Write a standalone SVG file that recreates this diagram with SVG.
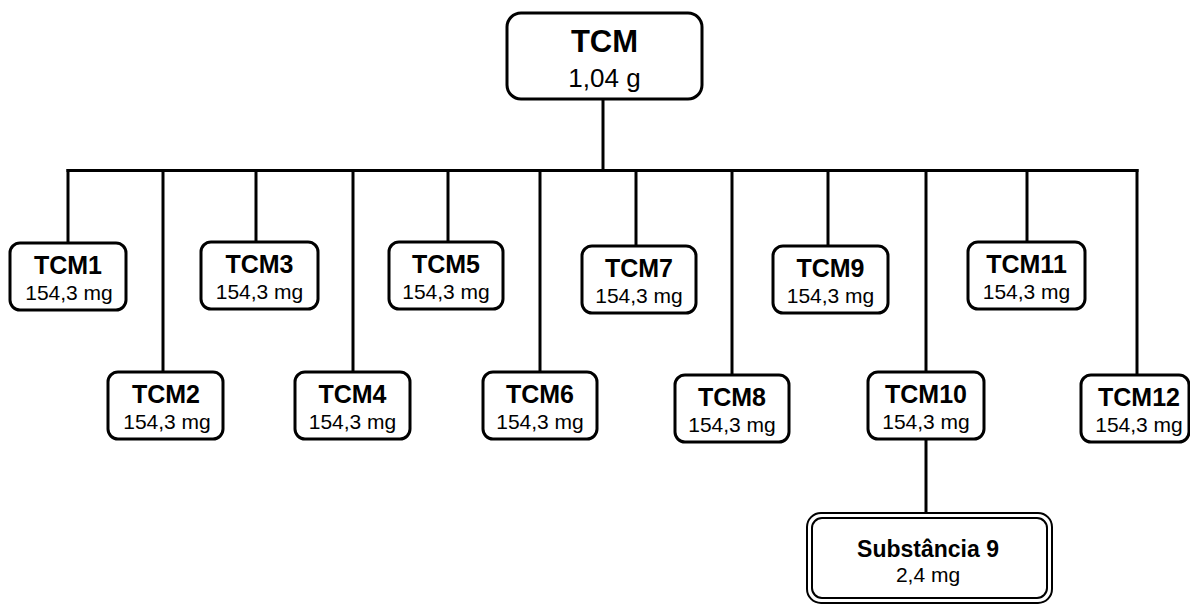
<svg xmlns="http://www.w3.org/2000/svg" width="1190" height="605" viewBox="0 0 1190 605">
  <style>
    .box { fill: #fff; stroke: #000; stroke-width: 3; }
    .dbl { fill: #fff; stroke: #000; stroke-width: 2; }
    .wire { stroke: #000; stroke-width: 3; fill: none; stroke-linecap: square; }
    text { font-family: "Liberation Sans", Arial, sans-serif; fill: #000; text-anchor: middle; }
    .name { font-weight: bold; font-size: 25px; }
    .mass { font-size: 21px; }
  </style>

  <!-- connectors -->
  <g id="connectors">
    <line class="wire" x1="603" y1="99" x2="603" y2="170.5"/>
    <line class="wire" x1="68" y1="170.5" x2="1137" y2="170.5"/>
    <line class="wire" x1="68" y1="170.5" x2="68" y2="243"/>
    <line class="wire" x1="163" y1="170.5" x2="163" y2="372"/>
    <line class="wire" x1="256" y1="170.5" x2="256" y2="242"/>
    <line class="wire" x1="353" y1="170.5" x2="353" y2="372"/>
    <line class="wire" x1="448" y1="170.5" x2="448" y2="242"/>
    <line class="wire" x1="540" y1="170.5" x2="540" y2="372"/>
    <line class="wire" x1="636" y1="170.5" x2="636" y2="246"/>
    <line class="wire" x1="732" y1="170.5" x2="732" y2="375"/>
    <line class="wire" x1="828" y1="170.5" x2="828" y2="246"/>
    <line class="wire" x1="926" y1="170.5" x2="926" y2="372"/>
    <line class="wire" x1="1027" y1="170.5" x2="1027" y2="242"/>
    <line class="wire" x1="1137" y1="170.5" x2="1137" y2="375"/>
    <line class="wire" x1="926" y1="439" x2="926" y2="513"/>
  </g>

  <!-- root sample -->
  <g id="tcm">
    <rect class="box" x="507" y="13" width="195" height="86" rx="14"/>
    <text x="604.5" y="52" style="font-weight:bold;font-size:31px">TCM</text>
    <text x="604.5" y="87" style="font-size:26px">1,04 g</text>
  </g>

  <!-- fractions, upper row -->
  <g id="tcm1">
    <rect class="box" x="10" y="243" width="116" height="67" rx="10"/>
    <text class="name" x="68" y="274">TCM1</text>
    <text class="mass" x="69" y="300">154,3 mg</text>
  </g>
  <g id="tcm3">
    <rect class="box" x="201" y="242" width="117" height="67" rx="10"/>
    <text class="name" x="259.5" y="273">TCM3</text>
    <text class="mass" x="259.5" y="299">154,3 mg</text>
  </g>
  <g id="tcm5">
    <rect class="box" x="389" y="242" width="114" height="67" rx="10"/>
    <text class="name" x="446" y="273">TCM5</text>
    <text class="mass" x="446" y="299">154,3 mg</text>
  </g>
  <g id="tcm7">
    <rect class="box" x="582" y="246" width="114" height="67" rx="10"/>
    <text class="name" x="639" y="277">TCM7</text>
    <text class="mass" x="639" y="303">154,3 mg</text>
  </g>
  <g id="tcm9">
    <rect class="box" x="773" y="246" width="115" height="67" rx="10"/>
    <text class="name" x="830.5" y="277">TCM9</text>
    <text class="mass" x="830.5" y="303">154,3 mg</text>
  </g>
  <g id="tcm11">
    <rect class="box" x="968" y="242" width="117" height="67" rx="10"/>
    <text class="name" x="1026.5" y="273">TCM11</text>
    <text class="mass" x="1026.5" y="299">154,3 mg</text>
  </g>

  <!-- fractions, lower row -->
  <g id="tcm2">
    <rect class="box" x="108" y="372" width="115" height="67" rx="10"/>
    <text class="name" x="166" y="403">TCM2</text>
    <text class="mass" x="167" y="429">154,3 mg</text>
  </g>
  <g id="tcm4">
    <rect class="box" x="295" y="372" width="115" height="67" rx="10"/>
    <text class="name" x="352.5" y="403">TCM4</text>
    <text class="mass" x="352.5" y="429">154,3 mg</text>
  </g>
  <g id="tcm6">
    <rect class="box" x="483" y="372" width="114" height="67" rx="10"/>
    <text class="name" x="540" y="403">TCM6</text>
    <text class="mass" x="540" y="429">154,3 mg</text>
  </g>
  <g id="tcm8">
    <rect class="box" x="675" y="375" width="114" height="67" rx="10"/>
    <text class="name" x="732" y="406">TCM8</text>
    <text class="mass" x="732" y="432">154,3 mg</text>
  </g>
  <g id="tcm10">
    <rect class="box" x="868" y="372" width="116" height="67" rx="10"/>
    <text class="name" x="926" y="403">TCM10</text>
    <text class="mass" x="926" y="429">154,3 mg</text>
  </g>
  <g id="tcm12">
    <rect class="box" x="1081" y="375" width="108" height="67" rx="10"/>
    <text class="name" x="1139" y="406">TCM12</text>
    <text class="mass" x="1139" y="432">154,3 mg</text>
  </g>

  <!-- isolated compound, double border -->
  <g id="substancia9">
    <rect class="dbl" x="807" y="513" width="245" height="90" rx="14"/>
    <rect class="dbl" x="812" y="518" width="235" height="80" rx="10"/>
    <text x="928" y="557" style="font-weight:bold;font-size:23px">Substância 9</text>
    <text x="928" y="582" style="font-size:21px">2,4 mg</text>
  </g>
</svg>
